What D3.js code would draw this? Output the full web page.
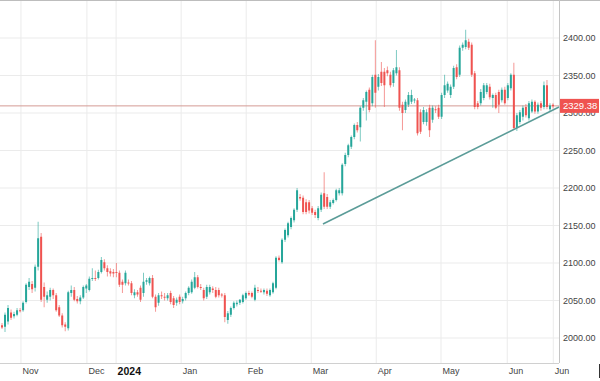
<!DOCTYPE html>
<html><head><meta charset="utf-8">
<script src="https://cdn.jsdelivr.net/npm/d3@7"></script>
<style>body{margin:0;background:#fff}svg{display:block}</style>
</head><body><svg id="c" width="600" height="381"></svg>
<script>
// ---- data ----
const opens = [2017,2015,2022,2034,2029,2031,2037,2037,2048,2068,2072,2067,2095,2135,2068,2051,2055,2064,2057,2041,2030,2018,2013,2060,2064,2052,2049,2054,2066,2064,
2079,2080,2080,2088,2101,2093,2089,2088,2088,2087,2075,2073,2074,2073,2057,2061,2067,2060,2075,2073,2080,2055,2047,2057,2055,2053,2060,2053,2047,2055,
2049,2053,2060,2061,2067,2081,2068,2064,2055,2061,2066,2064,2064,2058,2057,2024,2031,2040,2045,2047,2048,2053,2060,2060,2051,2064,2063,2061,2063,2057,
2061,2067,2107,2101,2131,2137,2148,2157,2171,2188,2187,2181,2181,2173,2168,2160,2171,2193,2188,2175,2180,2184,2193,2193,2232,2244,2255,2268,2284,2281,
2307,2315,2331,2313,2351,2335,2355,2355,2357,2351,2340,2353,2357,2311,2304,2311,2315,2317,2317,2301,2288,2288,2307,2291,2305,2307,2295,2324,2330,2324,
2335,2361,2351,2387,2388,2395,2391,2353,2313,2313,2320,2328,2335,2320,2324,2328,2317,2331,2320,2333,2351,2280,2288,2295,2308,2293,2302,2315,2302,2313,
2308,2337,2305,2311];
const highs = [2020,2034,2044,2038,2035,2040,2040,2049,2073,2080,2076,2098,2155,2140,2074,2062,2067,2066,2060,2044,2033,2021,2063,2070,2068,2056,2057,2070,2072,2082,
2093,2090,2091,2108,2105,2097,2093,2092,2100,2090,2078,2090,2078,2076,2065,2064,2070,2087,2080,2082,2084,2058,2060,2062,2060,2060,2063,2056,2054,2058,
2055,2062,2069,2078,2088,2084,2072,2067,2071,2071,2069,2068,2067,2060,2060,2036,2042,2049,2050,2052,2059,2062,2063,2062,2071,2068,2066,2066,2066,2066,
2075,2109,2110,2133,2146,2155,2162,2173,2200,2192,2190,2185,2184,2176,2171,2176,2194,2221,2192,2184,2186,2199,2200,2233,2247,2259,2270,2286,2288,2309,
2320,2330,2334,2351,2397,2352,2368,2360,2362,2355,2360,2384,2361,2315,2318,2328,2331,2320,2320,2305,2308,2305,2311,2310,2309,2311,2327,2351,2342,2338,
2363,2365,2390,2394,2411,2399,2394,2356,2316,2332,2340,2340,2339,2326,2327,2331,2334,2335,2340,2353,2367,2300,2304,2310,2312,2316,2318,2317,2314,2316,
2342,2344,2313,2313];
const lows = [2012,2008,2018,2024,2026,2029,2034,2035,2046,2064,2060,2062,2090,2048,2041,2047,2050,2052,2035,2028,2014,2009,2010,2055,2049,2046,2045,2052,2060,2062,
2076,2076,2078,2086,2090,2082,2082,2081,2081,2068,2060,2070,2070,2057,2053,2055,2048,2055,2071,2070,2053,2035,2043,2052,2050,2050,2045,2040,2043,2045,
2046,2050,2057,2059,2065,2066,2064,2050,2052,2058,2060,2053,2054,2054,2021,2019,2028,2038,2042,2044,2046,2051,2056,2053,2049,2060,2060,2058,2056,2055,
2059,2065,2102,2099,2128,2134,2145,2154,2168,2183,2165,2165,2166,2164,2160,2157,2168,2172,2172,2172,2178,2182,2190,2190,2229,2241,2252,2265,2274,2262,
2303,2290,2301,2309,2307,2330,2336,2308,2349,2334,2335,2350,2303,2277,2300,2308,2312,2313,2270,2272,2285,2283,2268,2287,2300,2292,2292,2320,2327,2320,
2332,2345,2348,2383,2385,2384,2348,2305,2305,2310,2317,2325,2318,2307,2305,2300,2314,2311,2317,2330,2278,2276,2285,2290,2294,2290,2300,2299,2299,2303,
2305,2305,2302,2306];
const closes = [2014,2031,2040,2027,2032,2037,2036,2047,2071,2075,2065,2095,2133,2051,2055,2057,2064,2057,2037,2030,2017,2015,2061,2064,2051,2049,2054,2068,2070,2079,
2080,2079,2088,2104,2093,2088,2086,2086,2087,2071,2071,2087,2073,2060,2061,2058,2051,2075,2077,2080,2055,2041,2057,2056,2054,2057,2048,2044,2051,2048,
2052,2060,2067,2075,2081,2068,2067,2053,2068,2068,2064,2055,2057,2057,2028,2033,2040,2047,2047,2051,2057,2060,2058,2055,2067,2063,2062,2064,2059,2064,
2073,2107,2104,2131,2144,2153,2160,2171,2197,2186,2168,2168,2170,2167,2164,2173,2191,2175,2175,2181,2184,2197,2197,2231,2244,2257,2268,2284,2277,2307,
2317,2328,2304,2348,2327,2348,2340,2337,2353,2337,2357,2361,2307,2300,2315,2324,2324,2318,2273,2275,2304,2301,2277,2307,2304,2295,2324,2337,2339,2335,
2360,2348,2387,2391,2397,2387,2351,2308,2308,2328,2337,2337,2321,2324,2307,2311,2331,2313,2337,2351,2280,2297,2301,2307,2297,2313,2315,2302,2311,2307,
2337,2308,2310,2309];
const yTicks = [2000,2050,2100,2150,2200,2250,2300,2350,2400];
const xTickIndex = [6.3,28.2,37.9,59.5,81.1,102.7,124.3,145.8,167.8,183.1];
const xTickLabels = ["Nov","Dec","2024","Jan","Feb","Mar","Apr","May","Jun","Jun"];
const trendIndex = [106.6,185];
const trendPrice = [2152,2308];
const priceLineValue = 2309.5;
const priceLabel = "2329.38";

// ---- drawing ----
const W=600, H=381, plotRight=559, plotBottom=363;
const UP="#26a69a", DOWN="#ef5350";
const font="'Liberation Sans', Arial, sans-serif";
const svg=d3.select("#c");
const x=d3.scaleLinear().domain([0,opens.length-1]).range([2,553]);
const y=d3.scaleLinear().domain([2000,2400]).range([338,38]);

const g=svg.append("g");
// gridlines
g.selectAll(".hg").data(yTicks).join("line")
  .attr("x1",0).attr("x2",plotRight).attr("y1",d=>y(d)).attr("y2",d=>y(d))
  .attr("stroke","#ebebeb").attr("stroke-width",1);
g.selectAll(".vg").data(xTickIndex).join("line")
  .attr("x1",d=>x(d)).attr("x2",d=>x(d)).attr("y1",0).attr("y2",plotBottom)
  .attr("stroke","#ebebeb").attr("stroke-width",1);

// price line
svg.append("line").attr("x1",0).attr("x2",plotRight)
  .attr("y1",y(priceLineValue)).attr("y2",y(priceLineValue))
  .attr("stroke","#d49a94").attr("stroke-width",1);

// candles
const idx=d3.range(opens.length);
const cg=svg.append("g");
cg.selectAll(".w").data(idx).join("line")
  .attr("x1",i=>x(i)).attr("x2",i=>x(i))
  .attr("y1",i=>y(highs[i])).attr("y2",i=>y(lows[i]))
  .attr("stroke",i=>closes[i]>=opens[i]?UP:DOWN).attr("stroke-width",1).attr("stroke-opacity",0.6);
cg.selectAll(".b").data(idx).join("rect")
  .attr("x",i=>x(i)-1).attr("width",2)
  .attr("y",i=>y(Math.max(opens[i],closes[i])))
  .attr("height",i=>Math.max(1,Math.abs(y(opens[i])-y(closes[i]))))
  .attr("fill",i=>closes[i]>=opens[i]?UP:DOWN);

// trend line
svg.append("line")
  .attr("x1",x(trendIndex[0])).attr("y1",y(trendPrice[0]))
  .attr("x2",x(trendIndex[1])).attr("y2",y(trendPrice[1]))
  .attr("stroke","#5b9c98").attr("stroke-width",1.6);

// borders
svg.append("line").attr("x1",0).attr("x2",W).attr("y1",0.5).attr("y2",0.5).attr("stroke","#bdbdbd");
svg.append("line").attr("x1",plotRight+0.5).attr("x2",plotRight+0.5).attr("y1",0).attr("y2",plotBottom).attr("stroke","#c4c4c4");
svg.append("line").attr("x1",0).attr("x2",plotRight).attr("y1",plotBottom+0.5).attr("y2",plotBottom+0.5).attr("stroke","#d0d0d0");
svg.append("line").attr("x1",599.5).attr("x2",599.5).attr("y1",364).attr("y2",378).attr("stroke","#333");

// y axis
const ya=svg.append("g").attr("transform",`translate(${plotRight},0)`)
  .call(d3.axisRight(y).tickValues(yTicks).tickSize(0).tickPadding(4).tickFormat(d3.format(".2f")));
ya.select(".domain").remove();
ya.selectAll("text").attr("font-family",font).attr("font-size",9).attr("fill","#444");

// x axis
const xa=svg.append("g").attr("transform",`translate(0,${plotBottom})`)
  .call(d3.axisBottom(x).tickValues(xTickIndex).tickSize(0).tickPadding(5).tickFormat((d,i)=>xTickLabels[i]));
xa.select(".domain").remove();
xa.selectAll("text").attr("text-anchor","start").attr("dx",1)
  .attr("font-family",font).attr("font-size",(d,i)=>xTickLabels[i]==="2024"?10.5:9)
  .attr("font-weight",(d,i)=>xTickLabels[i]==="2024"?"bold":"normal")
  .attr("fill",(d,i)=>xTickLabels[i]==="2024"?"#111":"#444");

// last price label
const py=y(priceLineValue);
svg.append("rect").attr("x",plotRight+1).attr("y",py-7).attr("width",39).attr("height",14).attr("fill","#ef5350");
svg.append("text").attr("x",plotRight+4).attr("y",py).attr("dy","0.35em")
  .attr("font-family",font).attr("font-size",9.5).attr("fill","#fff").text(priceLabel);
</script></body></html>
